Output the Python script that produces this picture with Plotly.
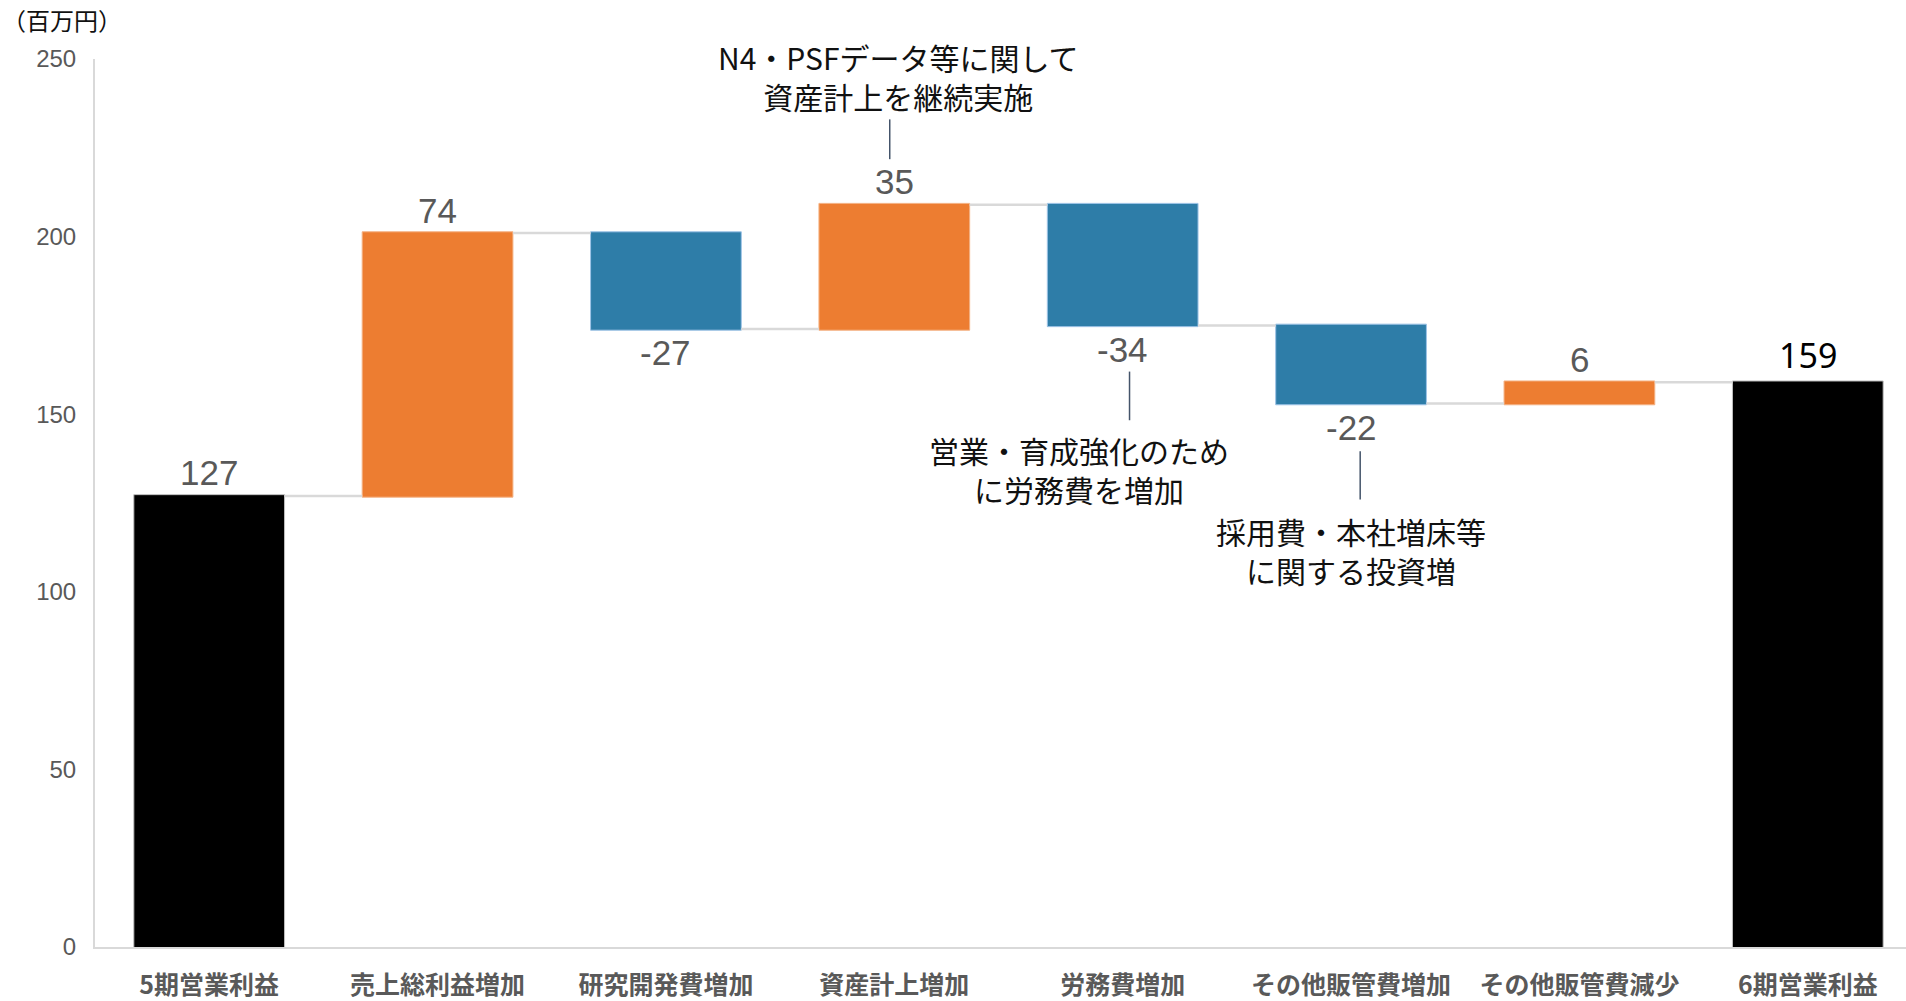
import plotly.graph_objects as go

categories = ["5期営業利益", "売上総利益増加", "研究開発費増加", "資産計上増加",
              "労務費増加", "その他販管費増加", "その他販管費減少", "6期営業利益"]
values = [127, 74, -27, 35, -34, -22, 6, 159]
measures = ["absolute", "relative", "relative", "relative",
            "relative", "relative", "relative", "total"]
labels = ["127", "74", "-27", "35", "-34", "-22", "6", "159"]

y_ticks = [0, 50, 100, 150, 200, 250]

callouts = [
    # (text, text_x, text_y, line_x, line_y0, line_y1)
    ("N4・PSFデータ等に関して<br>資産計上を継続実施", 3.02, 245.0, 2.98, 221.8, 233.0),
    ("営業・育成強化のため<br>に労務費を増加", 3.81, 134.5, 4.03, 148.3, 162.0),
    ("採用費・本社増床等<br>に関する投資増", 5.0, 111.5, 5.04, 126.0, 139.6),
]

ORANGE = "#ED7D31"
BLUE = "#2E7DA8"
BLACK = "#000000"
GRAY = "#595959"

fig = go.Figure(go.Waterfall(
    x=list(range(len(categories))),
    y=values,
    measure=measures,
    width=0.66,
    textinfo="none",
    hoverinfo="skip",
    increasing=dict(marker=dict(color=ORANGE, line=dict(color="#F4B183", width=1))),
    decreasing=dict(marker=dict(color=BLUE, line=dict(color="#9DC3E6", width=1))),
    totals=dict(marker=dict(color=BLACK, line=dict(color="#BFBFBF", width=1))),
    connector=dict(line=dict(color="#D9D9D9", width=2.5), mode="between"),
    showlegend=False,
))

# data labels from cumulative values
annotations = []
running = 0
for i, (v, m, lab) in enumerate(zip(values, measures, labels)):
    if m == "absolute":
        start, end = 0, v
        running = v
    elif m == "total":
        start, end = 0, running
    else:
        start, end = running, running + v
        running = end
    is_total = (m == "total")
    if is_total:
        shift = 27
    else:
        shift = 23 if end >= start else -24
    annotations.append(dict(
        x=i, y=end, xref="x", yref="y", text=lab, showarrow=False,
        yanchor="middle", yshift=shift,
        font=dict(family="Noto Sans" if is_total else "Liberation Sans, Arial",
                  size=34 if is_total else 35,
                  color=BLACK if is_total else GRAY),
    ))

shapes = []
for text, tx, ty, lx, ly0, ly1 in callouts:
    annotations.append(dict(
        x=tx, y=ty, xref="x", yref="y", text=text, showarrow=False,
        align="center", yanchor="middle",
        font=dict(family="Noto Sans CJK JP", size=30, color="#111111"),
    ))
    shapes.append(dict(type="line", xref="x", yref="y", x0=lx, x1=lx, y0=ly0, y1=ly1,
                       line=dict(color="#44546A", width=1.5)))

annotations.append(dict(
    x=-0.0525, y=1.044, xref="paper", yref="paper", text="（百万円）", showarrow=False,
    xanchor="left", yanchor="middle",
    font=dict(family="Noto Sans CJK JP", size=24, color="#111111"),
))

fig.update_layout(
    width=1906, height=1001,
    margin=dict(l=95, r=0, t=59, b=45),
    plot_bgcolor="white", paper_bgcolor="white",
    annotations=annotations, shapes=shapes,
    xaxis=dict(
        range=[-0.5, 7.43],
        tickmode="array", tickvals=list(range(len(categories))), ticktext=categories,
        tickfont=dict(family="Noto Sans CJK JP", size=25, color=GRAY, weight="bold"),
        showline=True, linecolor="#D9D9D9", linewidth=2,
        showgrid=False, zeroline=False, ticks="", ticklabelstandoff=15,
    ),
    yaxis=dict(
        range=[0, 250],
        tickmode="array", tickvals=y_ticks, ticktext=[str(t) for t in y_ticks],
        tickfont=dict(family="Liberation Sans, Arial", size=24, color=GRAY),
        showline=True, linecolor="#D9D9D9", linewidth=2,
        showgrid=False, zeroline=False, ticks="", ticklabelstandoff=12,
    ),
)

fig.write_html(
    "out.html",
    config={"displayModeBar": False},
    post_script="document.body.style.margin='0';document.body.style.overflow='hidden';",
)
